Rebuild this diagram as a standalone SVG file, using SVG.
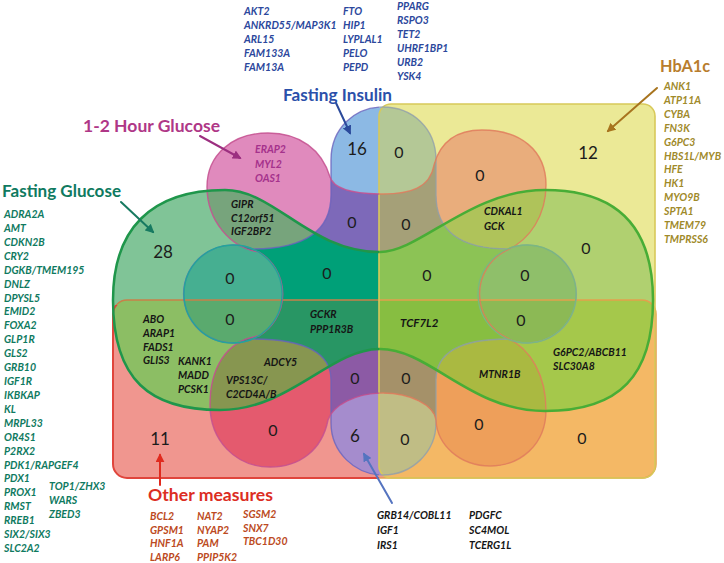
<svg xmlns="http://www.w3.org/2000/svg" width="724" height="563" viewBox="0 0 724 563">
<style>
.g{font-family:Lato,"Liberation Sans",sans-serif;font-weight:700;font-style:italic;font-size:10.5px}
.t{font-family:Lato,"Liberation Sans",sans-serif;font-weight:700;font-size:17px}
.n{font-family:Lato,"Liberation Sans",sans-serif;font-size:16px;fill:#1c1c1c;text-anchor:middle}
.nb{font-size:17px}
.k{fill:#151515}
.fi{fill:#2b479c}.fg{fill:#0f7a5f}.hb{fill:#9f8a2a}.om{fill:#bc4a22}.oh{fill:#a5328c}
.ln{fill:none;stroke-linecap:round}
</style>
<defs>
<rect id="sY" x="379" y="104" width="276" height="374" rx="12"/>
<rect id="sR" x="113" y="300" width="543" height="178" rx="14"/>
<path id="sG" d="M225,190 C275,190 310,252 380,252 C420,252 470,190 545,190 C620,190 653,230 653,300 C653,375 620,411 545,411 C470,411 430,349 380,349 C330,349 290,410 220,410 C150,410 113,380 113,300 C113,230 150,190 225,190 Z"/>
<path id="sB" d="M331,195 L331,160 C331,128 355,107 383,107 C412,107 436,128 436,160 L436,195 Q436,249 508,249 A49,49 0 1 1 508,339 Q436,339 436,380 L436,423 C436,452 412,475 383,475 C355,475 331,452 331,423 L331,380 Q331,339 252,339 A49,49 0 1 1 252,249 Q331,249 331,195 Z"/>
<path id="sP" d="M207,187 C207,155 232,133 268,133 C300,133 322,150 330,177 C334,190 355,194 383,194 C410,194 430,188 434,165 C440,143 455,130 482,130 C520,130 546,150 546,185 C546,215 530,240 507,250 A49,49 0 0 0 507,338 C530,348 546,375 546,410 C546,445 520,466 490,466 C460,466 437,445 436,420 C434,405 410,393 383,393 C356,393 333,405 328,420 C322,450 300,467 270,467 C235,467 210,440 210,405 C210,370 225,340 259,336 A49,49 0 0 0 259,252 C230,248 207,220 207,187 Z"/>
<clipPath id="cY"><use href="#sY"/></clipPath>
<clipPath id="cR"><use href="#sR"/></clipPath>
<clipPath id="cG"><use href="#sG"/></clipPath>
<clipPath id="cB"><use href="#sB"/></clipPath>
<clipPath id="cP"><use href="#sP"/></clipPath>
<clipPath id="cL"><rect x="0" y="0" width="379" height="563"/></clipPath>
<clipPath id="cRt"><rect x="379" y="0" width="345" height="563"/></clipPath>
<clipPath id="cLT"><rect x="0" y="0" width="379" height="305"/></clipPath>
<clipPath id="cLB"><rect x="0" y="305" width="379" height="258"/></clipPath>
<marker id="aFI" viewBox="0 0 10 10" refX="8" refY="5" markerWidth="4.5" markerHeight="4.5" orient="auto"><path d="M0,0 L10,5 L0,10 Z" fill="#2b4a9b"/></marker>
<marker id="aOH" viewBox="0 0 10 10" refX="8" refY="5" markerWidth="4.5" markerHeight="4.5" orient="auto"><path d="M0,0 L10,5 L0,10 Z" fill="#9c2f80"/></marker>
<marker id="aFG" viewBox="0 0 10 10" refX="8" refY="5" markerWidth="4.5" markerHeight="4.5" orient="auto"><path d="M0,0 L10,5 L0,10 Z" fill="#177a61"/></marker>
<marker id="aHB" viewBox="0 0 10 10" refX="8" refY="5" markerWidth="4.5" markerHeight="4.5" orient="auto"><path d="M0,0 L10,5 L0,10 Z" fill="#a8741e"/></marker>
<marker id="aOM" viewBox="0 0 10 10" refX="8" refY="5" markerWidth="4.5" markerHeight="4.5" orient="auto"><path d="M0,0 L10,5 L0,10 Z" fill="#e02a1e"/></marker>
<marker id="aSX" viewBox="0 0 10 10" refX="8" refY="5" markerWidth="4.5" markerHeight="4.5" orient="auto"><path d="M0,0 L10,5 L0,10 Z" fill="#5574c0"/></marker>
</defs>
<rect width="724" height="563" fill="#ffffff"/>

<g id="venn-regions">
<use href="#sY" fill="#ebe996"/>
<use href="#sR" fill="#f0968f"/>
<use href="#sG" fill="#80c497"/>
<use href="#sB" fill="#8cb9e4"/>
<use href="#sP" fill="#e08abd"/>
<g clip-path="url(#cY)"><use href="#sR" fill="#f4b865"/></g>
<g clip-path="url(#cY)"><use href="#sG" fill="#b0d070"/></g>
<g clip-path="url(#cY)"><use href="#sB" fill="#b4c896"/></g>
<g clip-path="url(#cY)"><use href="#sP" fill="#e9ad7c"/></g>
<g clip-path="url(#cR)"><use href="#sG" fill="#8cbe64"/></g>
<g clip-path="url(#cR)"><use href="#sB" fill="#a58ccd"/></g>
<g clip-path="url(#cR)"><use href="#sP" fill="#e45a6e"/></g>
<g clip-path="url(#cG)"><use href="#sB" fill="#46af91"/></g>
<g clip-path="url(#cG)"><use href="#sP" fill="#77a47c"/></g>
<g clip-path="url(#cB)"><use href="#sP" fill="#7d69b9"/></g>
<g clip-path="url(#cY)"><g clip-path="url(#cR)"><use href="#sG" fill="#a5c84b"/></g></g>
<g clip-path="url(#cY)"><g clip-path="url(#cR)"><use href="#sB" fill="#c0bd85"/></g></g>
<g clip-path="url(#cY)"><g clip-path="url(#cR)"><use href="#sP" fill="#ee9f5a"/></g></g>
<g clip-path="url(#cY)"><g clip-path="url(#cG)"><use href="#sB" fill="#8fbf6a"/></g></g>
<g clip-path="url(#cY)"><g clip-path="url(#cG)"><use href="#sP" fill="#afc35a"/></g></g>
<g clip-path="url(#cY)"><g clip-path="url(#cB)"><use href="#sP" fill="#a5a078"/></g></g>
<g clip-path="url(#cR)"><g clip-path="url(#cG)"><use href="#sB" fill="#5aaa6e"/></g></g>
<g clip-path="url(#cR)"><g clip-path="url(#cG)"><use href="#sP" fill="#879650"/></g></g>
<g clip-path="url(#cR)"><g clip-path="url(#cB)"><use href="#sP" fill="#8c5aa5"/></g></g>
<g clip-path="url(#cG)"><g clip-path="url(#cB)"><use href="#sP" fill="#00a078"/></g></g>
<g clip-path="url(#cY)"><g clip-path="url(#cR)"><g clip-path="url(#cG)"><use href="#sB" fill="#8cb955"/></g></g></g>
<g clip-path="url(#cY)"><g clip-path="url(#cR)"><g clip-path="url(#cG)"><use href="#sP" fill="#aab941"/></g></g></g>
<g clip-path="url(#cY)"><g clip-path="url(#cR)"><g clip-path="url(#cB)"><use href="#sP" fill="#a59169"/></g></g></g>
<g clip-path="url(#cY)"><g clip-path="url(#cG)"><g clip-path="url(#cB)"><use href="#sP" fill="#8cc355"/></g></g></g>
<g clip-path="url(#cR)"><g clip-path="url(#cG)"><g clip-path="url(#cB)"><use href="#sP" fill="#289664"/></g></g></g>
<g clip-path="url(#cY)"><g clip-path="url(#cR)"><g clip-path="url(#cG)"><g clip-path="url(#cB)"><use href="#sP" fill="#87be41"/></g></g></g></g>
</g>

<g id="venn-outlines" class="ln">
<g clip-path="url(#cLB)"><use href="#sR" fill="none" stroke="#e0453c" stroke-width="2"/></g>
<g clip-path="url(#cLT)"><use href="#sR" fill="none" stroke="#c98048" stroke-width="1.3"/></g>
<g clip-path="url(#cRt)"><use href="#sR" fill="none" stroke="#e3a04c" stroke-width="1.5"/></g>
<use href="#sY" fill="none" stroke="#d8c95a" stroke-width="1.6"/>
<g clip-path="url(#cL)"><use href="#sB" fill="none" stroke="#6b63bd" stroke-width="1.4" stroke-opacity="0.8"/></g>
<g clip-path="url(#cRt)"><use href="#sB" fill="none" stroke="#93a0a8" stroke-width="1.4" stroke-opacity="0.8"/></g>
<g clip-path="url(#cL)"><use href="#sP" fill="none" stroke="#c4508f" stroke-width="1.4" stroke-opacity="0.85"/></g>
<g clip-path="url(#cRt)"><use href="#sP" fill="none" stroke="#e07f5c" stroke-width="1.4" stroke-opacity="0.85"/></g>
<circle cx="233" cy="294" r="49" fill="none" stroke="#23a59a" stroke-width="1.4"/>
<circle cx="527" cy="294" r="49" fill="none" stroke="#7ab880" stroke-width="1.3"/>
<g clip-path="url(#cL)"><use href="#sG" fill="none" stroke="#1f964b" stroke-width="2.5"/></g>
<g clip-path="url(#cRt)"><use href="#sG" fill="none" stroke="#48ad36" stroke-width="2.5"/></g>
</g>

<g id="connectors" class="ln" stroke-width="2">
<path d="M336,103 L350,133" stroke="#2b4a9b" marker-end="url(#aFI)"/>
<path d="M200,136 L240,158" stroke="#9c2f80" marker-end="url(#aOH)"/>
<path d="M121,202 L153,232" stroke="#177a61" marker-end="url(#aFG)"/>
<path d="M657,88 L608,131" stroke="#a8741e" marker-end="url(#aHB)"/>
<path d="M160,485 L160,455" stroke="#e02a1e" marker-end="url(#aOM)"/>
<path d="M392,503 L364,454" stroke="#5574c0" marker-end="url(#aSX)"/>
</g>

<g id="node-fasting-insulin">
<text class="t" x="283" y="101" textLength="109" lengthAdjust="spacingAndGlyphs" fill="#2a50aa">Fasting Insulin</text>
<text class="g fi" x="244" y="15"><tspan x="244">AKT2</tspan><tspan x="244" dy="14">ANKRD55/MAP3K1</tspan><tspan x="244" dy="14">ARL15</tspan><tspan x="244" dy="14">FAM133A</tspan><tspan x="244" dy="14">FAM13A</tspan></text>
<text class="g fi" x="343" y="15"><tspan x="343">FTO</tspan><tspan x="343" dy="14">HIP1</tspan><tspan x="343" dy="14">LYPLAL1</tspan><tspan x="343" dy="14">PELO</tspan><tspan x="343" dy="14">PEPD</tspan></text>
<text class="g fi" x="397" y="10"><tspan x="397">PPARG</tspan><tspan x="397" dy="14">RSPO3</tspan><tspan x="397" dy="14">TET2</tspan><tspan x="397" dy="14">UHRF1BP1</tspan><tspan x="397" dy="14">URB2</tspan><tspan x="397" dy="14">YSK4</tspan></text>
<text class="n nb" x="357" y="155">16</text>
</g>

<g id="node-1-2-hour-glucose">
<text class="t" x="83" y="132" textLength="137" lengthAdjust="spacingAndGlyphs" fill="#af3787">1-2 Hour Glucose</text>
<text class="g oh" x="255" y="153"><tspan x="255">ERAP2</tspan><tspan x="255" dy="14.5">MYL2</tspan><tspan x="255" dy="14.5">OAS1</tspan></text>
</g>

<g id="node-fasting-glucose">
<text class="t" x="2" y="197" textLength="119" lengthAdjust="spacingAndGlyphs" fill="#0f7a5f">Fasting Glucose</text>
<text class="g fg" x="4" y="218"><tspan x="4">ADRA2A</tspan><tspan x="4" dy="13.92">AMT</tspan><tspan x="4" dy="13.92">CDKN2B</tspan><tspan x="4" dy="13.92">CRY2</tspan><tspan x="4" dy="13.92">DGKB/TMEM195</tspan><tspan x="4" dy="13.92">DNLZ</tspan><tspan x="4" dy="13.92">DPYSL5</tspan><tspan x="4" dy="13.92">EMID2</tspan><tspan x="4" dy="13.92">FOXA2</tspan><tspan x="4" dy="13.92">GLP1R</tspan><tspan x="4" dy="13.92">GLS2</tspan><tspan x="4" dy="13.92">GRB10</tspan><tspan x="4" dy="13.92">IGF1R</tspan><tspan x="4" dy="13.92">IKBKAP</tspan><tspan x="4" dy="13.92">KL</tspan><tspan x="4" dy="13.92">MRPL33</tspan><tspan x="4" dy="13.92">OR4S1</tspan><tspan x="4" dy="13.92">P2RX2</tspan><tspan x="4" dy="13.92">PDK1/RAPGEF4</tspan><tspan x="4" dy="13.92">PDX1</tspan><tspan x="4" dy="13.92">PROX1</tspan><tspan x="4" dy="13.92">RMST</tspan><tspan x="4" dy="13.92">RREB1</tspan><tspan x="4" dy="13.92">SIX2/SIX3</tspan><tspan x="4" dy="13.92">SLC2A2</tspan></text>
<text class="g fg" x="49" y="490"><tspan x="49">TOP1/ZHX3</tspan><tspan x="49" dy="14">WARS</tspan><tspan x="49" dy="14">ZBED3</tspan></text>
<text class="n nb" x="163" y="258">28</text>
</g>

<g id="node-hba1c">
<text class="t" x="660" y="72" textLength="50" lengthAdjust="spacingAndGlyphs" fill="#b87d2d">HbA1c</text>
<text class="g hb" x="664" y="90"><tspan x="664">ANK1</tspan><tspan x="664" dy="13.9">ATP11A</tspan><tspan x="664" dy="13.9">CYBA</tspan><tspan x="664" dy="13.9">FN3K</tspan><tspan x="664" dy="13.9">G6PC3</tspan><tspan x="664" dy="13.9">HBS1L/MYB</tspan><tspan x="664" dy="13.9">HFE</tspan><tspan x="664" dy="13.9">HK1</tspan><tspan x="664" dy="13.9">MYO9B</tspan><tspan x="664" dy="13.9">SPTA1</tspan><tspan x="664" dy="13.9">TMEM79</tspan><tspan x="664" dy="13.9">TMPRSS6</tspan></text>
<text class="n nb" x="588" y="159">12</text>
</g>

<g id="node-other-measures">
<text class="t" x="148" y="501" textLength="125" lengthAdjust="spacingAndGlyphs" fill="#dc2d23">Other measures</text>
<text class="g om" x="150" y="520"><tspan x="150">BCL2</tspan><tspan x="150" dy="13.7">GPSM1</tspan><tspan x="150" dy="13.7">HNF1A</tspan><tspan x="150" dy="13.7">LARP6</tspan></text>
<text class="g om" x="197" y="520"><tspan x="197">NAT2</tspan><tspan x="197" dy="13.7">NYAP2</tspan><tspan x="197" dy="13.7">PAM</tspan><tspan x="197" dy="13.7">PPIP5K2</tspan></text>
<text class="g om" x="243" y="518"><tspan x="243">SGSM2</tspan><tspan x="243" dy="13.7">SNX7</tspan><tspan x="243" dy="13.7">TBC1D30</tspan></text>
<text class="n nb" x="160" y="445">11</text>
</g>

<g id="node-overlaps">
<text class="g k" x="231" y="208"><tspan x="231">GIPR</tspan><tspan x="231" dy="13.7">C12orf51</tspan><tspan x="231" dy="13.7">IGF2BP2</tspan></text>
<text class="g k" x="484" y="215"><tspan x="484">CDKAL1</tspan><tspan x="484" dy="15">GCK</tspan></text>
<text class="g k" x="310" y="318"><tspan x="310">GCKR</tspan><tspan x="310" dy="15">PPP1R3B</tspan></text>
<text class="g k" x="400" y="327" style="font-size:11.5px">TCF7L2</text>
<text class="g k" x="143" y="323"><tspan x="143">ABO</tspan><tspan x="143" dy="13.8">ARAP1</tspan><tspan x="143" dy="13.8">FADS1</tspan><tspan x="143" dy="13.8">GLIS3</tspan></text>
<text class="g k" x="178" y="365"><tspan x="178">KANK1</tspan><tspan x="178" dy="14">MADD</tspan><tspan x="178" dy="14">PCSK1</tspan></text>
<text class="g k" x="264" y="366">ADCY5</text>
<text class="g k" x="226" y="384"><tspan x="226">VPS13C/</tspan><tspan x="226" dy="14">C2CD4A/B</tspan></text>
<text class="g k" x="553" y="356"><tspan x="553">G6PC2/ABCB11</tspan><tspan x="553" dy="14">SLC30A8</tspan></text>
<text class="g k" x="479" y="378">MTNR1B</text>
<text class="g k" x="377" y="519"><tspan x="377">GRB14/COBL11</tspan><tspan x="377" dy="15">IGF1</tspan><tspan x="377" dy="15">IRS1</tspan></text>
<text class="g k" x="469" y="519"><tspan x="469">PDGFC</tspan><tspan x="469" dy="15">SC4MOL</tspan><tspan x="469" dy="15">TCERG1L</tspan></text>
<text class="n nb" x="355" y="442">6</text>
<text class="n" x="399" y="158">0</text>
<text class="n" x="480" y="181">0</text>
<text class="n" x="352" y="228">0</text>
<text class="n" x="406" y="230">0</text>
<text class="n" x="230" y="284">0</text>
<text class="n" x="327" y="279">0</text>
<text class="n" x="427" y="281">0</text>
<text class="n" x="525" y="281">0</text>
<text class="n" x="586" y="254">0</text>
<text class="n" x="230" y="325">0</text>
<text class="n" x="521" y="326">0</text>
<text class="n" x="406" y="384">0</text>
<text class="n" x="355" y="384">0</text>
<text class="n" x="273" y="436">0</text>
<text class="n" x="405" y="445">0</text>
<text class="n" x="479" y="430">0</text>
<text class="n" x="582" y="444">0</text>
</g>
</svg>
